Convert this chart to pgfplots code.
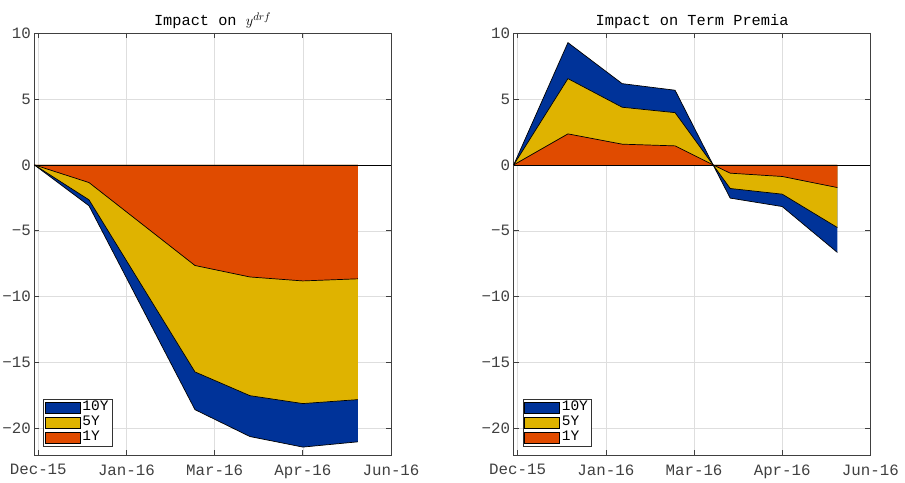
\documentclass[border=0pt]{standalone}
\usepackage{pgfplots}
\pgfplotsset{compat=1.18}
\usepackage{fontspec}
\setmainfont{Liberation Mono}
\definecolor{c10}{RGB}{0,51,153}
\definecolor{c5}{RGB}{223,179,0}
\definecolor{c1}{RGB}{224,75,0}
\pgfplotsset{
 mystyle/.style={
  scale only axis, width=356.7pt, height=422pt, anchor=south west,
  xmin=-0.045, xmax=4, ymin=-22, ymax=10,
  xtick={0,1,2,3,4}, xticklabels={Dec-15,Jan-16,Mar-16,Apr-16,Jun-16},
  ytick={-20,-15,-10,-5,0,5,10}, yticklabels={−20,−15,−10,−5,0,5,10},
  grid=major, grid style={color=black!13, line width=0.6pt},
  axis line style={color=black!75, line width=0.7pt},
  tick style={color=black!75, line width=0.7pt}, major tick length=5pt,
  tick align=inside,
  ticklabel style={font=\fontsize{15.8}{18}\selectfont, text=black!75},
  xticklabel style={yshift=-6pt},
  title style={font=\fontsize{15.3}{18}\selectfont, yshift=-5.5pt},
  legend cell align=left,
  legend style={at={(0.025,0.02)}, anchor=south west, draw=black!80, line width=0.6pt,
    fill=white, font=\fontsize{14.5}{16}\selectfont, inner xsep=1.5pt, inner ysep=1pt,
    row sep=0pt,
    nodes={inner ysep=1pt, inner xsep=1.8pt, text height=9.5pt, text depth=3.5pt}},
  legend image code/.code={\draw[#1, draw=black, line width=0.6pt] (0pt,-5.3pt) rectangle (35pt,5.3pt);},
 }}
\begin{document}
\begin{tikzpicture}
\useasboundingbox (0,0) rectangle (905pt,482pt);
% Left panel
\begin{axis}[mystyle, at={(34.3pt,27pt)}, title={Impact on $y^{drf}$}]
\addplot[fill=c10, draw=none] table {
x y
-0.045 0
0.575 -3.1
1.777 -18.56
2.40 -20.6
3.0 -21.4
3.625 -21.0
} \closedcycle;
\addplot[fill=c5, draw=none] table {
x y
-0.045 0
0.575 -2.65
1.777 -15.7
2.40 -17.5
3.0 -18.1
3.625 -17.8
} \closedcycle;
\addplot[fill=c1, draw=none] table {
x y
-0.045 0
0.575 -1.34
1.777 -7.63
2.40 -8.5
3.0 -8.8
3.625 -8.64
} \closedcycle;
\addplot[black, line width=0.7pt, forget plot] table {
x y
-0.045 0
0.575 -3.1
1.777 -18.56
2.40 -20.6
3.0 -21.4
3.625 -21.0
};
\addplot[black, line width=0.7pt, forget plot] table {
x y
-0.045 0
0.575 -2.65
1.777 -15.7
2.40 -17.5
3.0 -18.1
3.625 -17.8
};
\addplot[black, line width=0.7pt, forget plot] table {
x y
-0.045 0
0.575 -1.34
1.777 -7.63
2.40 -8.5
3.0 -8.8
3.625 -8.64
};
\addplot[black, line width=0.7pt, forget plot] coordinates {(-0.045,0) (4,0)};
\legend{10Y,5Y,1Y}
\end{axis}
% Right panel
\begin{axis}[mystyle, at={(513.7pt,27pt)}, title={Impact on Term Premia}]
\addplot[fill=c10, draw=none] table {
x y
-0.045 0
0.57 9.27
1.185 6.16
1.785 5.66
2.216 0
2.41 -2.52
3.0 -3.16
3.625 -6.64
} \closedcycle;
\addplot[fill=c5, draw=none] table {
x y
-0.045 0
0.57 6.54
1.185 4.37
1.785 3.96
2.216 0
2.41 -1.79
3.0 -2.22
3.625 -4.75
} \closedcycle;
\addplot[fill=c1, draw=none] table {
x y
-0.045 0
0.57 2.35
1.185 1.57
1.785 1.44
2.216 0
2.41 -0.63
3.0 -0.88
3.625 -1.72
} \closedcycle;
\addplot[black, line width=0.7pt, forget plot] table {
x y
-0.045 0
0.57 9.27
1.185 6.16
1.785 5.66
2.216 0
2.41 -2.52
3.0 -3.16
3.625 -6.64
};
\addplot[black, line width=0.7pt, forget plot] table {
x y
-0.045 0
0.57 6.54
1.185 4.37
1.785 3.96
2.216 0
2.41 -1.79
3.0 -2.22
3.625 -4.75
};
\addplot[black, line width=0.7pt, forget plot] table {
x y
-0.045 0
0.57 2.35
1.185 1.57
1.785 1.44
2.216 0
2.41 -0.63
3.0 -0.88
3.625 -1.72
};
\addplot[black, line width=0.7pt, forget plot] coordinates {(-0.045,0) (4,0)};
\legend{10Y,5Y,1Y}
\end{axis}
\end{tikzpicture}
\end{document}
